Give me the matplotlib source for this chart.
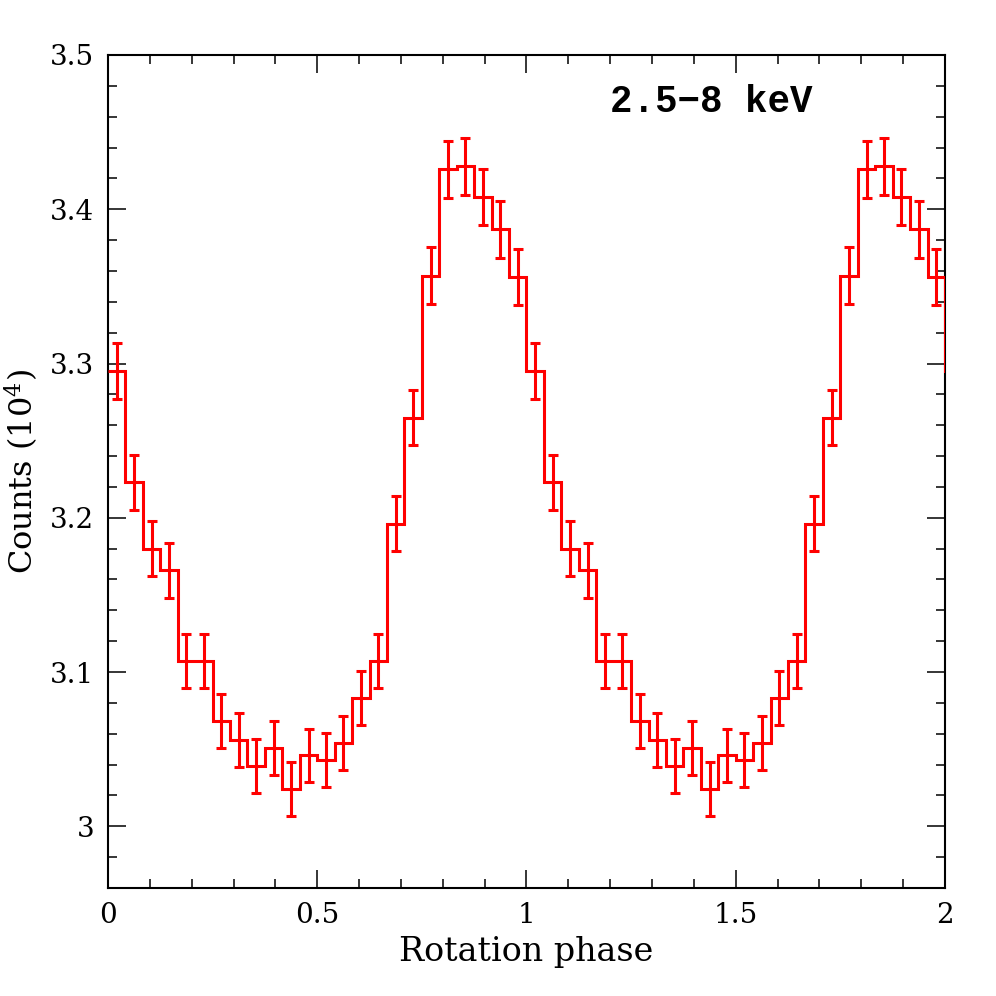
import numpy as np
import matplotlib.pyplot as plt
from matplotlib.ticker import MultipleLocator, FormatStrFormatter

# one rotation cycle, 24 phase bins (counts in units of 1e4)
counts = [3.295, 3.223, 3.180, 3.166, 3.107, 3.107, 3.068, 3.056,
          3.039, 3.051, 3.024, 3.046, 3.043, 3.054, 3.083, 3.107,
          3.196, 3.265, 3.357, 3.426, 3.428, 3.408, 3.387, 3.356]
errors = [0.0181, 0.0178, 0.0177, 0.0177, 0.0175, 0.0175, 0.0175, 0.0174,
          0.0174, 0.0175, 0.0174, 0.0174, 0.0174, 0.0174, 0.0175, 0.0175,
          0.0178, 0.0180, 0.0183, 0.0185, 0.0185, 0.0184, 0.0183, 0.0182]
n_bins = len(counts)
n_cycles = 2

# repeat the folded curve for two cycles (+1 bin so the step drops at x=2)
vals = np.array(counts * n_cycles + counts[:1])
errs = np.array(errors * n_cycles + errors[:1])
edges = np.arange(len(vals) + 1) / n_bins
centers = (edges[:-1] + edges[1:]) / 2

red = '#ff0000'

plt.rcParams['mathtext.fontset'] = 'dejavuserif'

fig = plt.figure(figsize=(9.96, 9.96), dpi=100)
ax = fig.add_axes([0.1084, 0.1084, 0.8404, 0.8364])

ax.stairs(vals, edges, baseline=None, color=red, linewidth=2.2, zorder=3)
ax.errorbar(centers, vals, yerr=errs, fmt='none', ecolor=red,
            elinewidth=2.2, capsize=3.5, capthick=2.2, zorder=3)

ax.set_xlim(0, 2)
ax.set_ylim(2.96, 3.5)

ax.xaxis.set_major_locator(MultipleLocator(0.5))
ax.xaxis.set_minor_locator(MultipleLocator(0.1))
ax.yaxis.set_major_locator(MultipleLocator(0.1))
ax.yaxis.set_minor_locator(MultipleLocator(0.02))
ax.xaxis.set_major_formatter(FormatStrFormatter('%g'))
ax.yaxis.set_major_formatter(FormatStrFormatter('%g'))

ax.tick_params(which='both', direction='in', top=True, right=True,
               width=1.1, colors='black')
ax.tick_params(which='major', length=13, pad=10, labelsize=20)
ax.tick_params(which='minor', length=6.5)
for lab in ax.get_xticklabels() + ax.get_yticklabels():
    lab.set_family('DejaVu Serif')

for sp in ax.spines.values():
    sp.set_linewidth(1.5)

ax.set_xlabel('Rotation phase', family='DejaVu Serif', fontsize=24, labelpad=5)
ax.set_ylabel('Counts (10$^{4}$)', family='DejaVu Serif', fontsize=23, labelpad=6)

ax.text(0.60, 0.944, '2.5\u22128 keV', transform=ax.transAxes,
        family='Liberation Mono', weight='bold', fontsize=27,
        ha='left', va='center')

fig.savefig('out.png', dpi=100)
